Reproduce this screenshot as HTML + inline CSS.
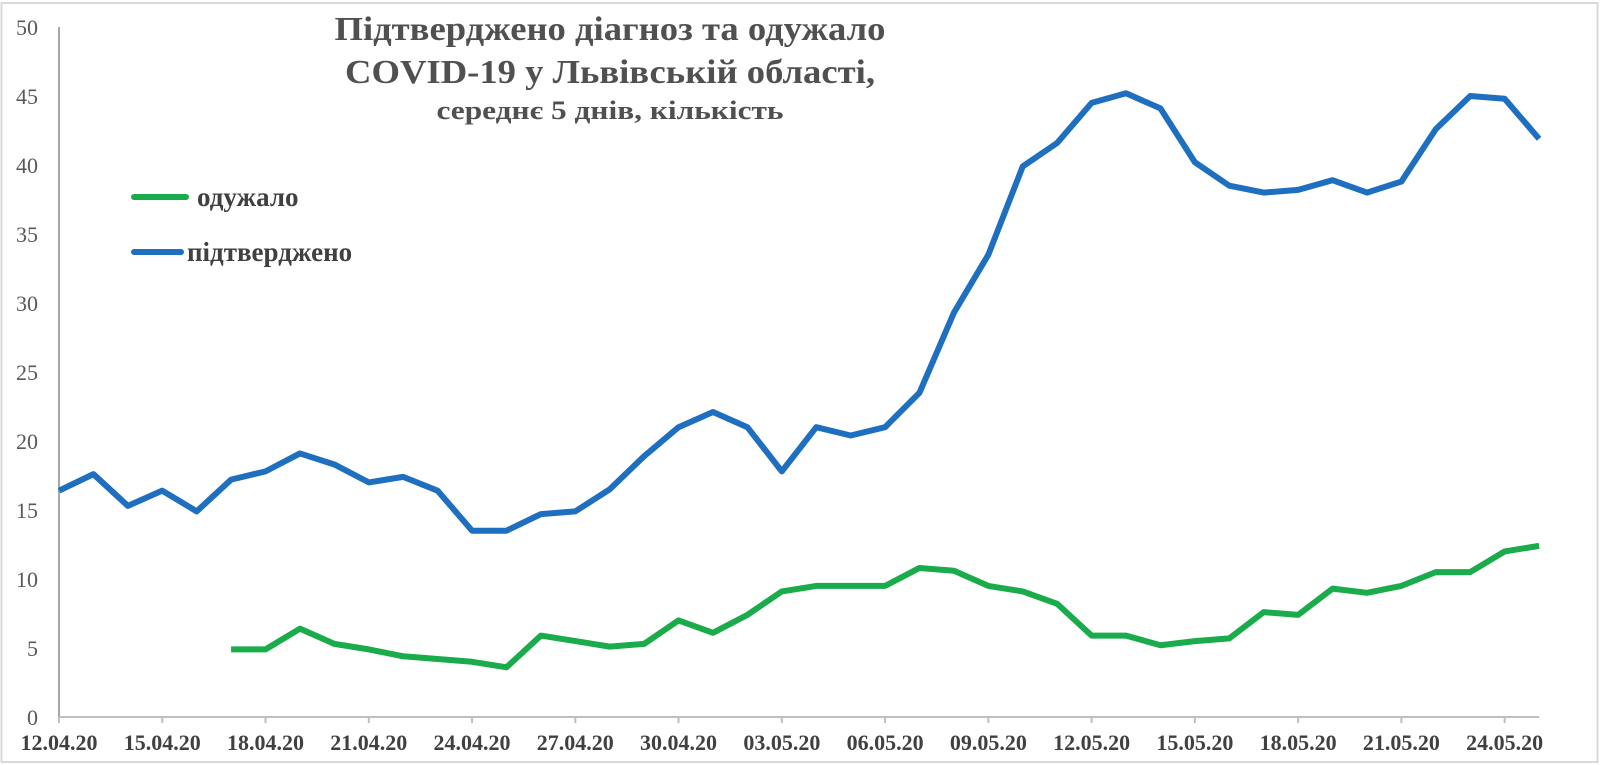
<!DOCTYPE html>
<html><head><meta charset="utf-8"><style>
html,body{margin:0;padding:0;background:#fff}
svg{display:block}
</style></head><body>
<svg id="c" width="1600" height="765" xmlns="http://www.w3.org/2000/svg" font-family="Liberation Serif, serif">
<rect x="1.5" y="3" width="1596" height="759" fill="#fff" stroke="#d9d9d9" stroke-width="2"/>
<g id="axes"></g>
<text x="610" y="40" text-anchor="middle" font-size="34" font-weight="bold" fill="#505050" textLength="551" lengthAdjust="spacingAndGlyphs">Підтверджено діагноз та одужало</text>
<text x="610" y="83" text-anchor="middle" font-size="34" font-weight="bold" fill="#505050" textLength="530" lengthAdjust="spacingAndGlyphs">COVID-19 у Львівській області,</text>
<text x="610" y="119" text-anchor="middle" font-size="26" font-weight="bold" fill="#505050" textLength="347" lengthAdjust="spacingAndGlyphs">середнє 5 днів, кількість</text>
<line x1="134" y1="197" x2="186" y2="197" stroke="#1aab4b" stroke-width="6" stroke-linecap="round"/>
<text x="197" y="206" font-size="27" font-weight="bold" fill="#404040">одужало</text>
<line x1="134" y1="252" x2="181" y2="252" stroke="#1f6fc0" stroke-width="6" stroke-linecap="round"/>
<text x="187" y="261" font-size="27" font-weight="bold" fill="#404040">підтверджено</text>
</svg>
<script>
const ns="http://www.w3.org/2000/svg",g=document.getElementById('axes');
const X=d=>59+d*34.42,Y=v=>717-13.8*v;
function el(t,a,txt){const e=document.createElementNS(ns,t);for(const k in a)e.setAttribute(k,a[k]);if(txt!=null)e.textContent=txt;g.appendChild(e);return e;}
el('line',{x1:59,y1:27,x2:59,y2:717,stroke:'#a6a6a6','stroke-width':2});
el('line',{x1:59,y1:717,x2:1539,y2:717,stroke:'#bfbfbf','stroke-width':2});
for(let v=0;v<=50;v+=5)el('text',{x:38,y:Y(v)+8,'text-anchor':'end','font-size':22,fill:'#595959'},String(v));
const labels=['12.04.20','15.04.20','18.04.20','21.04.20','24.04.20','27.04.20','30.04.20','03.05.20','06.05.20','09.05.20','12.05.20','15.05.20','18.05.20','21.05.20','24.05.20'];
labels.forEach((l,i)=>{const x=X(i*3);el('line',{x1:x,y1:717,x2:x,y2:723,stroke:'#bfbfbf','stroke-width':2});el('text',{x:x,y:750,'text-anchor':'middle','font-size':22,'font-weight':'bold',fill:'#404040'},l);});
const blue=[16.4,17.6,15.3,16.4,14.9,17.2,17.8,19.1,18.3,17.0,17.4,16.4,13.5,13.5,14.7,14.9,16.5,18.9,21.0,22.1,21.0,17.8,21.0,20.4,21.0,23.5,29.3,33.5,39.9,41.6,44.5,45.2,44.1,40.2,38.5,38.0,38.2,38.9,38.0,38.8,42.6,45.0,44.8,41.9];
const green=[4.9,4.9,6.4,5.3,4.9,4.4,4.2,4.0,3.6,5.9,5.5,5.1,5.3,7.0,6.1,7.4,9.1,9.5,9.5,9.5,10.8,10.6,9.5,9.1,8.2,5.9,5.9,5.2,5.5,5.7,7.6,7.4,9.3,9.0,9.5,10.5,10.5,12.0,12.4];
el('polyline',{points:blue.map((v,i)=>X(i)+','+Y(v)).join(' '),fill:'none',stroke:'#1f6fc0','stroke-width':6,'stroke-linejoin':'round'});
el('polyline',{points:green.map((v,i)=>X(i+5)+','+Y(v)).join(' '),fill:'none',stroke:'#1aab4b','stroke-width':6,'stroke-linejoin':'round'});
</script>
</body></html>
